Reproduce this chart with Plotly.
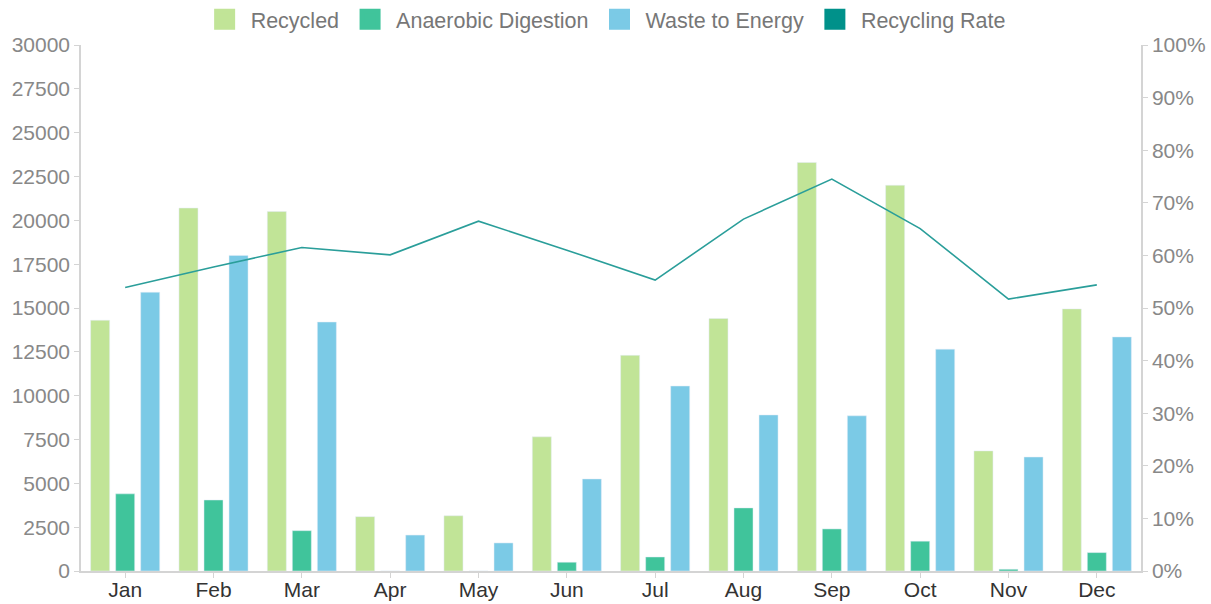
import plotly.graph_objects as go

months = ["Jan", "Feb", "Mar", "Apr", "May", "Jun", "Jul", "Aug", "Sep", "Oct", "Nov", "Dec"]
recycled = [14300, 20700, 20500, 3100, 3150, 7650, 12300, 14400, 23300, 22000, 6850, 14950]
anaerobic = [4400, 4050, 2300, 0, 0, 500, 800, 3600, 2400, 1700, 100, 1050]
waste_to_energy = [15900, 18000, 14200, 2050, 1600, 5250, 10550, 8900, 8850, 12650, 6500, 13350]
recycling_rate = [0.539, 0.578, 0.615, 0.601, 0.665, 0.610, 0.553, 0.669, 0.745, 0.651, 0.517, 0.544]

left_ticks = list(range(0, 30001, 2500))
left_labels = [str(v) for v in left_ticks]
right_ticks = [i / 10 for i in range(11)]
right_labels = [f"{i * 10}%" for i in range(11)]

C_REC = "#c1e497"
C_AD = "#40c49b"
C_WTE = "#7bcae6"
C_RATE = "#00918a"
C_LINE = "#2a9e9a"

fig = go.Figure()
fig.add_trace(go.Bar(x=months, y=recycled, name="Recycled", marker_color=C_REC, showlegend=False))
fig.add_trace(go.Bar(x=months, y=anaerobic, name="Anaerobic Digestion", marker_color=C_AD, showlegend=False))
fig.add_trace(go.Bar(x=months, y=waste_to_energy, name="Waste to Energy", marker_color=C_WTE, showlegend=False))
fig.add_trace(go.Scatter(x=months, y=recycling_rate, name="Recycling Rate", mode="lines",
                         line=dict(color=C_LINE, width=1.6), yaxis="y2", showlegend=False))

# legend entries with square swatches
for name, col in [("Recycled", C_REC), ("Anaerobic Digestion", C_AD),
                  ("Waste to Energy", C_WTE), ("Recycling Rate", C_RATE)]:
    fig.add_trace(go.Scatter(x=[None], y=[None], mode="markers", name=name,
                             marker=dict(symbol="square", size=23, color=col,
                                         line=dict(color=col, width=6))))

axis_col = "#d4d4d4"
FONT = "Liberation Sans, Arial, sans-serif"
tick_font = dict(family=FONT, size=21, color="#888888")
fig.update_layout(
    width=1211, height=604,
    margin=dict(l=81, r=70, t=45, b=33, autoexpand=False),
    paper_bgcolor="white", plot_bgcolor="white",
    barmode="group", bargap=0.15, bargroupgap=0.24,
    font=dict(family=FONT, size=20, color="#888888"),
    legend=dict(orientation="h", x=0.494, xanchor="center", y=1.049, yanchor="middle",
                font=dict(family=FONT, size=21.5, color="#777777"), itemsizing="trace",
                traceorder="normal", itemwidth=42),
    xaxis=dict(type="category", categoryorder="array", categoryarray=months,
               showline=True, linecolor=axis_col, linewidth=1.5,
               ticks="outside", ticklen=5, tickcolor=axis_col, automargin=False,
               ticklabelstandoff=-6,
               tickfont=dict(family=FONT, color="#333333", size=21),
               showgrid=False, zeroline=False),
    yaxis=dict(range=[0, 30000], tickvals=left_ticks, ticktext=left_labels, showline=True,
               linecolor=axis_col, automargin=False,
               linewidth=1.5, ticks="outside", ticklen=5, tickcolor=axis_col,
               showgrid=False, zeroline=False, tickfont=tick_font),
    yaxis2=dict(range=[0, 1], tickvals=right_ticks, ticktext=right_labels, overlaying="y",
                side="right", showline=True, linecolor=axis_col, linewidth=1.5,
                ticks="outside", ticklen=5, tickcolor=axis_col, showgrid=False, automargin=False,
                zeroline=False, tickfont=tick_font),
)

fig.write_html("out.html", config={"displayModeBar": False},
               post_script="document.body.style.margin='0';")
